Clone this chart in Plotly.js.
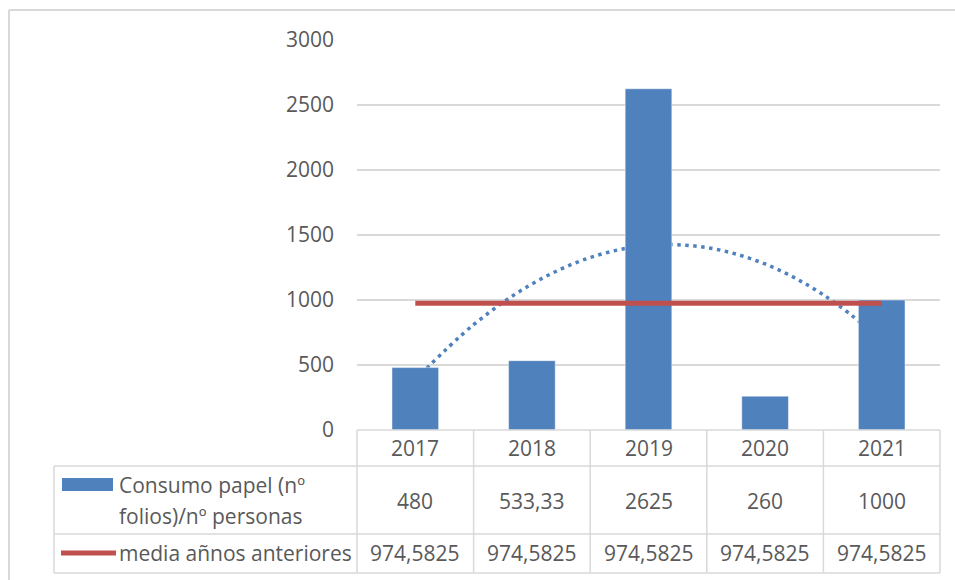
<!DOCTYPE html>
<html>
<head>
<meta charset="utf-8">
<script src="https://cdn.plot.ly/plotly-3.0.1.min.js"></script>
<style>html,body{margin:0;padding:0;background:#fff;}#chart{width:955px;height:580px;}</style>
</head>
<body>
<div id="chart"></div>
<script>
// ---- data ----
var years = [2017, 2018, 2019, 2020, 2021];
var yearLabels = ['2017', '2018', '2019', '2020', '2021'];
var consumo = [480, 533.33, 2625, 260, 1000];
var consumoLabels = ['480', '533,33', '2625', '260', '1000'];
var media = [974.5825, 974.5825, 974.5825, 974.5825, 974.5825];
var mediaLabels = ['974,5825', '974,5825', '974,5825', '974,5825', '974,5825'];
// polynomial trendline
var trendX = [2017, 2017.5, 2018, 2018.5, 2019, 2019.5, 2020, 2020.5, 2021];
var trendY = [386, 810, 1123, 1327, 1420, 1403, 1277, 1040, 693];
var seriesNames = ['Consumo papel (nº', 'folios)/nº personas', 'media añnos anteriores'];
var yTicks = [0, 500, 1000, 1500, 2000, 2500, 3000];

// ---- styling ----
var FONT = '"Open Sans", sans-serif';
var TXT = '#595959';
var GRID = '#D9D9D9';
var BLUE = '#4F81BD';
var RED = '#C0504D';
var FS = 21;

// pixel helpers for the table geometry (plot area: x 357..940, y 40..430)
var L = 357, R = 15, T = 40, B = 150, W = 955, H = 580;
var PW = W - L - R, PH = H - T - B;
function px(p) { return (p - L) / PW; }
function py(p) { return (T + PH - p) / PH; }

var traces = [
  {
    type: 'scatter', mode: 'lines', x: trendX, y: trendY,
    xaxis: 'x', yaxis: 'y',
    line: { color: BLUE, width: 3.5, dash: '3.5px,4.5px', shape: 'spline' },
    hoverinfo: 'skip', showlegend: false
  },
  {
    type: 'bar', x: years, y: consumo, name: seriesNames[0] + ' ' + seriesNames[1],
    xaxis: 'x2', yaxis: 'y2', width: 0.4,
    marker: { color: BLUE, line: { color: 'rgba(255,255,255,0.45)', width: 1 } },
    showlegend: false
  },
  {
    type: 'scatter', mode: 'lines', x: years, y: media, name: seriesNames[2],
    xaxis: 'x2', yaxis: 'y2',
    line: { color: RED, width: 5 },
    showlegend: false
  }
];

var shapes = [];
var annotations = [];
function hline(x0, x1, y, color, width) {
  shapes.push({ type: 'line', xref: 'paper', yref: 'paper', x0: x0, x1: x1, y0: y, y1: y,
    line: { color: color || GRID, width: width || 1.5 }, layer: 'above' });
}
function vline(x, y0, y1, color, width) {
  shapes.push({ type: 'line', xref: 'paper', yref: 'paper', x0: x, x1: x, y0: y0, y1: y1,
    line: { color: color || GRID, width: width || 1.5 }, layer: 'above' });
}

// outer frame (left + top)
vline(px(9), py(10), py(600), '#D9D9D9', 2);
hline(px(9), px(970), py(10), '#D9D9D9', 2);

// table grid
var rowHeadTop = py(430), row1Top = py(466), row2Top = py(534), tableBottom = py(573);
var tableLeft = px(54);
hline(0, 1, rowHeadTop);
hline(tableLeft, 1, row1Top);
hline(tableLeft, 1, row2Top);
hline(tableLeft, 1, tableBottom);
vline(tableLeft, row1Top, tableBottom);
for (var i = 0; i <= years.length; i++) {
  vline(i / years.length, rowHeadTop, tableBottom);
}

// legend keys
shapes.push({ type: 'rect', xref: 'paper', yref: 'paper', x0: px(62), x1: px(113), y0: py(478), y1: py(491),
  fillcolor: BLUE, line: { width: 0 }, layer: 'above' });
shapes.push({ type: 'line', xref: 'paper', yref: 'paper', x0: px(61), x1: px(116), y0: py(553), y1: py(553),
  line: { color: RED, width: 5 }, layer: 'above' });

// cell texts
var f = { family: FONT, size: FS, color: TXT };
for (var j = 0; j < years.length; j++) {
  annotations.push({ xref: 'x', yref: 'paper', x: years[j], y: py(448), text: yearLabels[j],
    showarrow: false, font: f, xanchor: 'center', yanchor: 'middle' });
  annotations.push({ xref: 'x', yref: 'paper', x: years[j], y: py(501), text: consumoLabels[j],
    showarrow: false, font: f, xanchor: 'center', yanchor: 'middle' });
  annotations.push({ xref: 'x', yref: 'paper', x: years[j], y: py(553), text: mediaLabels[j],
    showarrow: false, font: f, xanchor: 'center', yanchor: 'middle' });
}
annotations.push({ xref: 'paper', yref: 'paper', x: px(118), y: py(485), text: seriesNames[0],
  showarrow: false, font: f, xanchor: 'left', yanchor: 'middle', borderpad: 0 });
annotations.push({ xref: 'paper', yref: 'paper', x: px(118), y: py(516), text: seriesNames[1],
  showarrow: false, font: f, xanchor: 'left', yanchor: 'middle', borderpad: 0 });
annotations.push({ xref: 'paper', yref: 'paper', x: px(118), y: py(553), text: seriesNames[2],
  showarrow: false, font: f, xanchor: 'left', yanchor: 'middle', borderpad: 0 });

var xr = [2016.5, 2021.5];
var yr = [0, 3000];
var layout = {
  width: W, height: H,
  margin: { l: L, r: R, t: T, b: B, pad: 0 },
  paper_bgcolor: '#ffffff', plot_bgcolor: '#ffffff',
  font: { family: FONT, color: TXT, size: FS },
  showlegend: false,
  bargap: 0.6,
  xaxis: { range: xr, showticklabels: false, showgrid: false, zeroline: false, showline: false, fixedrange: true },
  yaxis: { range: yr, tickvals: yTicks, ticktext: yTicks.map(String), showgrid: true, gridcolor: GRID, gridwidth: 1.5,
    zeroline: false, showline: false, ticks: '', ticklabelstandoff: 22,
    tickfont: { family: FONT, size: FS, color: TXT }, fixedrange: true },
  xaxis2: { range: xr, overlaying: 'x', visible: false, fixedrange: true },
  yaxis2: { range: yr, overlaying: 'y', visible: false, fixedrange: true },
  shapes: shapes,
  annotations: annotations
};

Plotly.newPlot('chart', traces, layout, { displayModeBar: false, staticPlot: true });
</script>
</body>
</html>
